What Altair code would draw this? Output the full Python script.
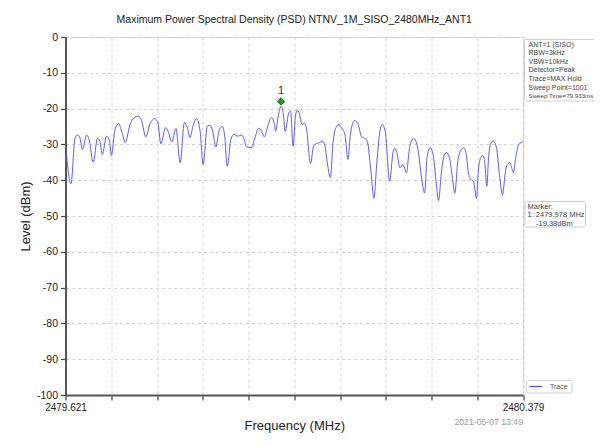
import altair as alt
import pandas as pd

TITLE = "Maximum Power Spectral Density (PSD) NTNV_1M_SISO_2480MHz_ANT1"
X_MIN = 2479.621
X_MAX = 2480.379

freq = [
    2479.621, 2479.630, 2479.637, 2479.641, 2479.644, 2479.649, 2479.656, 2479.660,
    2479.667, 2479.674, 2479.678, 2479.682, 2479.689, 2479.694, 2479.697, 2479.703,
    2479.709, 2479.714, 2479.720, 2479.728, 2479.734, 2479.742, 2479.747, 2479.754,
    2479.761, 2479.769, 2479.774, 2479.779, 2479.787, 2479.791, 2479.797, 2479.804,
    2479.811, 2479.818, 2479.823, 2479.827, 2479.833, 2479.838, 2479.844, 2479.849,
    2479.856, 2479.860, 2479.865, 2479.870, 2479.876, 2479.881, 2479.885, 2479.889,
    2479.895, 2479.900, 2479.906, 2479.913, 2479.916, 2479.921, 2479.929, 2479.935,
    2479.941, 2479.946, 2479.950, 2479.957, 2479.962, 2479.967, 2479.969, 2479.974,
    2479.978, 2479.982, 2479.985, 2479.991, 2479.994, 2479.998, 2480.002, 2480.005,
    2480.008, 2480.013, 2480.017, 2480.020, 2480.027, 2480.032, 2480.037, 2480.042,
    2480.047, 2480.051, 2480.054, 2480.060, 2480.064, 2480.069, 2480.074, 2480.078,
    2480.084, 2480.089, 2480.093, 2480.100, 2480.106, 2480.111, 2480.115, 2480.121,
    2480.127, 2480.132, 2480.137, 2480.142, 2480.146, 2480.151, 2480.158, 2480.164,
    2480.167, 2480.170, 2480.175, 2480.180, 2480.186, 2480.191, 2480.198, 2480.204,
    2480.211, 2480.216, 2480.220, 2480.225, 2480.230, 2480.235, 2480.239, 2480.244,
    2480.249, 2480.252, 2480.257, 2480.261, 2480.266, 2480.271, 2480.277, 2480.281,
    2480.285, 2480.289, 2480.293, 2480.297, 2480.302, 2480.305, 2480.309, 2480.313,
    2480.316, 2480.319, 2480.322, 2480.326, 2480.330, 2480.335, 2480.340, 2480.345,
    2480.350, 2480.353, 2480.357, 2480.361, 2480.363, 2480.367, 2480.372, 2480.379,
]

level = [
    -30.0, -41.0, -28.1, -27.4, -27.7, -31.4, -27.4, -28.6,
    -35.0, -28.3, -29.1, -32.8, -27.7, -29.1, -33.1, -25.8,
    -24.2, -26.3, -29.5, -24.4, -22.7, -22.1, -23.3, -27.9,
    -24.2, -22.8, -23.9, -29.8, -25.3, -26.3, -29.3, -25.6,
    -35.1, -23.9, -25.3, -28.1, -24.4, -22.8, -26.3, -35.6,
    -24.9, -24.7, -26.3, -30.7, -25.8, -25.0, -28.1, -36.1,
    -28.6, -27.2, -27.7, -27.4, -28.1, -30.7, -30.9, -28.1,
    -25.5, -26.3, -27.9, -24.4, -22.5, -24.2, -26.3, -21.6,
    -19.38, -21.6, -26.4, -21.1, -20.7, -30.5, -22.1, -20.5,
    -21.1, -24.4, -24.1, -25.3, -35.3, -30.5, -29.8, -29.5,
    -29.1, -30.5, -34.2, -39.3, -30.0, -25.3, -24.4, -25.3,
    -27.2, -34.2, -27.2, -23.3, -24.4, -27.7, -28.1, -29.1,
    -37.5, -45.0, -34.7, -26.3, -24.4, -26.7, -40.3, -31.9,
    -31.1, -32.3, -36.5, -35.6, -37.9, -30.9, -28.4, -30.5,
    -39.3, -43.6, -33.7, -30.9, -32.8, -40.3, -45.7, -37.5,
    -32.8, -32.3, -33.7, -37.9, -43.6, -34.7, -31.4, -30.9,
    -32.8, -38.4, -39.8, -40.3, -45.1, -37.5, -33.7, -33.1,
    -35.6, -41.7, -33.7, -29.5, -29.1, -30.9, -38.4, -44.0,
    -37.5, -35.6, -35.1, -37.0, -37.9, -33.7, -30.0, -29.3,
]

marker_freq = [2479.978]
marker_level = [-19.38]
marker_label = ["1"]

y_ticks = list(range(-100, 1, 10))
x_ticks = [X_MIN + i * (X_MAX - X_MIN) / 10 for i in range(11)]

info_text = ["ANT=1 (SISO)", "RBW=3kHz", "VBW=10kHz", "Detector=Peak",
             "Trace=MAX Hold", "Sweep Point=1001"]
info_last = "Sweep Time=79.933ms"
marker_text = ["Marker:", "1: 2479.978 MHz"]
marker_value = "-19.38dBm"
legend_label = "Trace"
date_text = "2021-05-07 13:49"

FONT = "Liberation Sans"
W, H = 457.5, 358

trace_df = pd.DataFrame({"f": freq, "lvl": level})
mk_df = pd.DataFrame({"f": marker_freq, "lvl": marker_level, "lab": marker_label})

xscale = alt.Scale(domain=[X_MIN, X_MAX], nice=False, zero=False)
yscale = alt.Scale(domain=[-100, 0], nice=False)

xaxis = alt.Axis(
    values=x_ticks, title="Frequency (MHz)", grid=True, gridDash=[3, 3],
    gridColor="#c8c8c8", gridWidth=0.8, domainColor="#555", domainWidth=2,
    tickColor="#444", tickSize=5, tickWidth=1.2, labelOverlap=False, labelFlush=False,
    labelExpr="datum.value < 2479.63 || datum.value > 2480.37 ? format(datum.value, '.3f') : ''",
    labelFont=FONT, labelFontSize=10, labelColor="#222", labelPadding=2,
    titleFont=FONT, titleFontSize=13, titleFontWeight="normal", titleColor="#222",
    titlePadding=7,
)
yaxis = alt.Axis(
    values=y_ticks, title="Level (dBm)", grid=True, gridDash=[3, 3],
    gridColor="#c8c8c8", gridWidth=0.8, domainColor="#555", domainWidth=2,
    tickColor="#444", tickSize=5, tickWidth=1.2, labelExpr="'' + datum.value",
    labelOverlap=False,
    labelFont=FONT, labelFontSize=10.5, labelColor="#222", labelPadding=3,
    titleFont=FONT, titleFontSize=13, titleFontWeight="normal", titleColor="#222",
    titlePadding=4,
)

X = alt.X("f:Q", scale=xscale, axis=xaxis)
Y = alt.Y("lvl:Q", scale=yscale, axis=yaxis)

trace = alt.Chart(trace_df).mark_line(
    color="#4a4aff", strokeWidth=0.9, interpolate="monotone", clip=True
).encode(x=X, y=Y)

marker = alt.Chart(mk_df).mark_point(
    shape="diamond", filled=True, size=55, color="#1a9a1a", stroke="#0b600b",
    strokeWidth=0.8, opacity=1, yOffset=-5
).encode(x=X, y=Y)

marker_lab = alt.Chart(mk_df).mark_text(
    font=FONT, fontSize=11, color="#333", dy=-15, baseline="middle"
).encode(x=X, y=Y, text="lab:N")

ann = pd.DataFrame({"k": [0]})

info_box = alt.Chart(ann).mark_rect(
    fill="white", stroke="#cfcfcf", strokeWidth=1, cornerRadius=2
).encode(x=alt.value(459), x2=alt.value(545), y=alt.value(2.5), y2=alt.value(64))
info = alt.Chart(ann).mark_text(
    align="left", baseline="top", font=FONT, fontSize=7, color="#444",
    lineHeight=8.6, lineBreak="\n"
).transform_calculate(t="'" + "\\n".join(info_text) + "'").encode(
    x=alt.value(463), y=alt.value(3.5), text="t:N"
)
info2 = alt.Chart(ann).mark_text(
    align="left", baseline="top", font=FONT, fontSize=6.2, color="#444"
).encode(x=alt.value(463), y=alt.value(3.5 + 6 * 8.6 + 0.6), text=alt.value(info_last))

mk_box = alt.Chart(ann).mark_rect(
    fill="white", stroke="#cfcfcf", strokeWidth=1, cornerRadius=2
).encode(x=alt.value(459.5), x2=alt.value(520), y=alt.value(164.5), y2=alt.value(190))
mk_info = alt.Chart(ann).mark_text(
    align="left", baseline="top", font=FONT, fontSize=7.5, color="#444",
    lineHeight=8.5, lineBreak="\n"
).transform_calculate(t="'" + "\\n".join(marker_text) + "'").encode(
    x=alt.value(462), y=alt.value(165.5), text="t:N"
)
mk_info2 = alt.Chart(ann).mark_text(
    align="left", baseline="top", font=FONT, fontSize=7.5, color="#444"
).encode(x=alt.value(470.5), y=alt.value(165.5 + 2 * 8.5), text=alt.value(marker_value))

lg_box = alt.Chart(ann).mark_rect(
    fill="white", stroke="#cfcfcf", strokeWidth=1, cornerRadius=2
).encode(x=alt.value(461), x2=alt.value(506.5), y=alt.value(343.5), y2=alt.value(356))
lg_line = alt.Chart(ann).mark_rule(color="#4a4aff", strokeWidth=1.2).encode(
    x=alt.value(464), x2=alt.value(476.5), y=alt.value(349.5)
)
lg_text = alt.Chart(ann).mark_text(
    align="left", baseline="middle", font=FONT, fontSize=7, color="#555"
).encode(x=alt.value(484.5), y=alt.value(349.5), text=alt.value(legend_label))

date = alt.Chart(ann).mark_text(
    align="right", baseline="middle", font=FONT, fontSize=8.7, color="#999"
).encode(x=alt.value(W), y=alt.value(385), text=alt.value(date_text))

chart = alt.layer(
    trace, marker, marker_lab, info_box, info, info2, mk_box, mk_info, mk_info2,
    lg_box, lg_line, lg_text, date
).properties(
    width=W, height=H,
    title=alt.Title(TITLE, font=FONT, fontSize=10.5, fontWeight="normal",
                    color="#222", anchor="middle", offset=7),
    autosize=alt.AutoSizeParams(type="none"),
    padding={"left": 57.5, "top": 29, "right": 71, "bottom": 51},
).configure_view(stroke="#777", strokeWidth=1.5).configure(background="white")

chart.save("out.html", embed_options={"renderer": "svg", "actions": False})
